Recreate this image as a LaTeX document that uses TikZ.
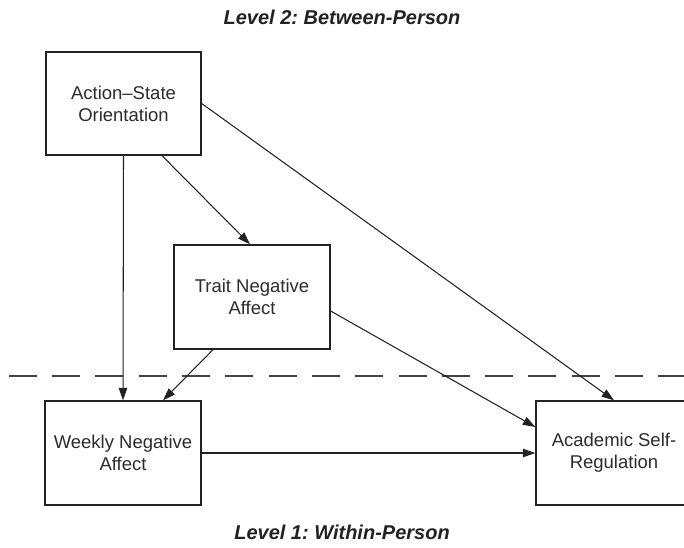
\documentclass[tikz,border=0pt]{standalone}
\usepackage{fontspec}
\setmainfont{Liberation Sans}
\usetikzlibrary{arrows.meta}
\definecolor{ink}{HTML}{222222}
\definecolor{txt}{HTML}{2c2c2c}
\frenchspacing
\begin{document}
\begin{tikzpicture}[x=1pt,y=-1pt,
  varbox/.style={draw=ink,line width=1.35pt,fill=white,minimum width=156pt,minimum height=104pt,
    align=center,text=txt,inner sep=0pt,font=\fontsize{18.5}{22}\selectfont},
  conn/.style={draw=ink,line width=1.05pt,-{Triangle[length=12.5pt,width=8.5pt]}},
  leveltitle/.style={anchor=base,text=ink,font=\fontsize{20}{24}\selectfont\bfseries\itshape\frenchspacing,inner sep=0pt}]
\useasboundingbox (0,0) rectangle (684,547);
\clip (0,0) rectangle (684,547);
\coordinate (dl) at (8.8,376);
\coordinate (dr) at (690,376);
\draw[draw=ink!85,line width=1.2pt,dash pattern=on 28pt off 15.3pt] (dl) -- (dr);
\node[leveltitle] (t2) at (342,24) {Level 2: Between-Person};
\node[leveltitle] (t1) at (342,539) {Level 1: Within-Person};
\node[varbox,minimum width=155pt,minimum height=103pt] (aso) at (123.5,103.5) {Action–State\\Orientation};
\node[varbox] (tna) at (252,297) {Trait Negative\\Affect};
\node[varbox] (wna) at (123,453) {Weekly Negative\\Affect};
\node[varbox] (asr) at (614,453) {Academic Self-\\Regulation};
\draw[conn] ([xshift=38.5pt]aso.south) -- ([xshift=-2pt]tna.north);
\draw[conn] (aso.south) -- (wna.north);
\draw[conn] (aso.east) -- (asr.north);
\draw[conn] ([xshift=-39pt]tna.south) -- ([xshift=40pt]wna.north);
\draw[conn] ([yshift=-14pt]tna.east) -- ([yshift=26pt]asr.west);
\draw[conn] (wna.east) -- (asr.west);
\end{tikzpicture}
\end{document}
